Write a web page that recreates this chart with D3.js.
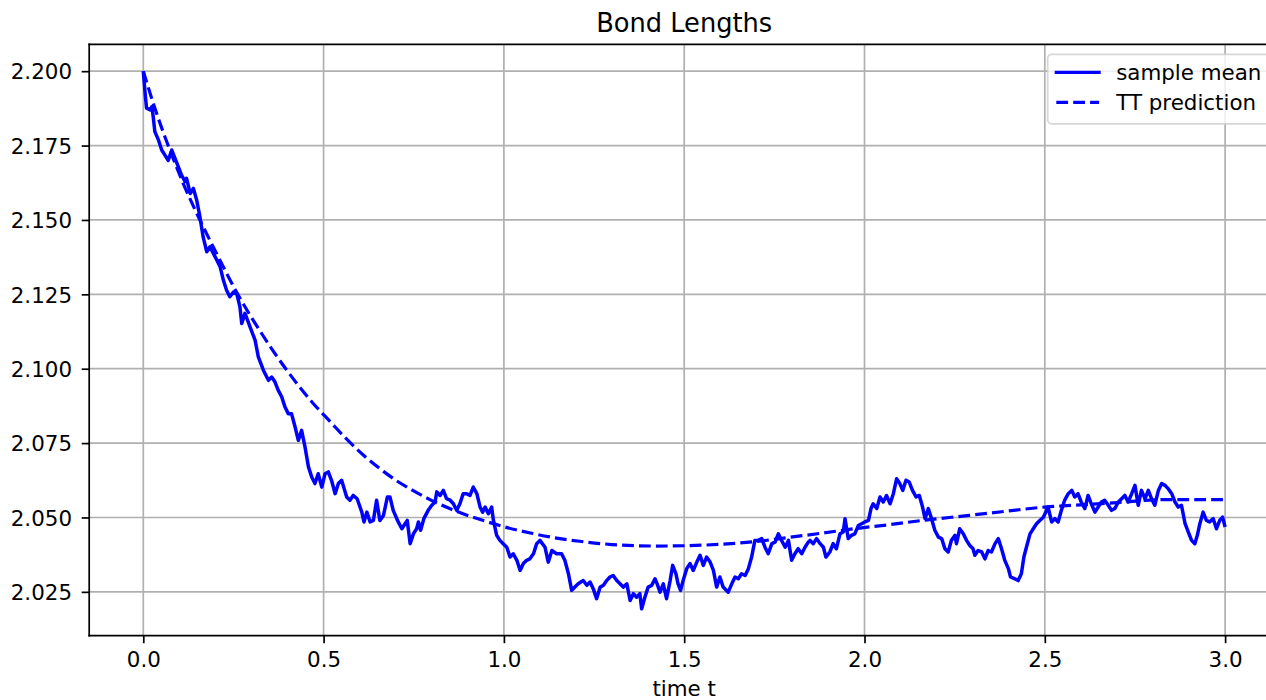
<!DOCTYPE html>
<html>
<head>
<meta charset="utf-8">
<script src="https://cdn.jsdelivr.net/npm/d3@7"></script>
<style>
  body { margin: 0; background: #fff; }
  svg { display: block; }
  text { font-family: "DejaVu Sans", sans-serif; fill: #000; }
</style>
</head>
<body>
<svg id="chart" width="1266" height="700"></svg>
<script>
// Simulated mean bond length over time
const sampleTime = [
  0, 0.005, 0.009, 0.019, 0.024, 0.028, 0.032, 0.042, 0.051, 0.060, 0.069, 0.079, 0.088, 0.097, 0.106, 0.116, 0.120, 0.130, 0.139, 0.148,
  0.157, 0.166, 0.176, 0.185, 0.194, 0.204, 0.213, 0.222, 0.231, 0.240, 0.250, 0.259, 0.268, 0.273, 0.282, 0.296, 0.310, 0.319, 0.333, 0.347,
  0.356, 0.365, 0.374, 0.384, 0.393, 0.402, 0.411, 0.421, 0.430, 0.439, 0.448, 0.458, 0.467, 0.476, 0.485, 0.495, 0.504, 0.513, 0.522, 0.532,
  0.541, 0.550, 0.564, 0.573, 0.582, 0.593, 0.606, 0.612, 0.620, 0.629, 0.638, 0.647, 0.656, 0.666, 0.677, 0.684, 0.693, 0.707, 0.717, 0.726,
  0.732, 0.740, 0.749, 0.758, 0.763, 0.769, 0.778, 0.790, 0.800, 0.809, 0.814, 0.823, 0.832, 0.841, 0.851, 0.860, 0.869, 0.878, 0.887, 0.897,
  0.906, 0.915, 0.925, 0.934, 0.941, 0.948, 0.957, 0.966, 0.971, 0.980, 0.989, 0.998, 1.008, 1.017, 1.026, 1.036, 1.045, 1.054, 1.063, 1.072,
  1.082, 1.091, 1.100, 1.114, 1.123, 1.133, 1.146, 1.160, 1.169, 1.179, 1.188, 1.197, 1.206, 1.220, 1.230, 1.239, 1.248, 1.257, 1.267, 1.276,
  1.285, 1.294, 1.303, 1.313, 1.322, 1.331, 1.341, 1.350, 1.359, 1.368, 1.377, 1.382, 1.391, 1.400, 1.410, 1.419, 1.425, 1.433, 1.442, 1.451,
  1.461, 1.468, 1.477, 1.483, 1.490, 1.497, 1.507, 1.516, 1.525, 1.535, 1.544, 1.553, 1.562, 1.572, 1.581, 1.590, 1.599, 1.608, 1.622, 1.632,
  1.641, 1.650, 1.659, 1.669, 1.678, 1.687, 1.696, 1.705, 1.715, 1.724, 1.733, 1.743, 1.752, 1.761, 1.770, 1.780, 1.789, 1.798, 1.807, 1.816,
  1.826, 1.835, 1.844, 1.849, 1.858, 1.867, 1.877, 1.886, 1.893, 1.904, 1.913, 1.922, 1.932, 1.941, 1.946, 1.955, 1.964, 1.973, 1.983, 1.992,
  2.001, 2.011, 2.018, 2.024, 2.034, 2.043, 2.052, 2.061, 2.071, 2.080, 2.089, 2.098, 2.106, 2.115, 2.124, 2.133, 2.143, 2.152, 2.161, 2.168,
  2.177, 2.186, 2.195, 2.205, 2.214, 2.223, 2.232, 2.241, 2.251, 2.255, 2.264, 2.274, 2.283, 2.292, 2.301, 2.306, 2.315, 2.325, 2.334, 2.343,
  2.352, 2.362, 2.371, 2.380, 2.389, 2.399, 2.405, 2.417, 2.426, 2.435, 2.442, 2.449, 2.459, 2.468, 2.477, 2.486, 2.496, 2.505, 2.509, 2.519,
  2.528, 2.537, 2.546, 2.555, 2.565, 2.575, 2.583, 2.592, 2.601, 2.611, 2.620, 2.629, 2.639, 2.648, 2.657, 2.666, 2.676, 2.685, 2.694, 2.704,
  2.713, 2.722, 2.731, 2.741, 2.750, 2.759, 2.768, 2.778, 2.787, 2.796, 2.805, 2.815, 2.824, 2.833, 2.842, 2.852, 2.861, 2.870, 2.879, 2.889,
  2.898, 2.907, 2.916, 2.923, 2.930, 2.939, 2.948, 2.957, 2.967, 2.976, 2.985, 2.993, 3.000
];
const sampleMean = [
  2.2000, 2.1926, 2.1876, 2.1870, 2.1881, 2.1842, 2.1797, 2.1769, 2.1735, 2.1718, 2.1700, 2.1735, 2.1707, 2.1679, 2.1651, 2.1629, 2.1640, 2.1589, 2.1606, 2.1567,
  2.1511, 2.1443, 2.1393, 2.1410, 2.1388, 2.1365, 2.1343, 2.1298, 2.1264, 2.1242, 2.1258, 2.1253, 2.1208, 2.1152, 2.1186, 2.1141, 2.1096, 2.1040, 2.0995, 2.0961,
  2.0972, 2.0956, 2.0928, 2.0905, 2.0871, 2.0849, 2.0849, 2.0804, 2.0759, 2.0793, 2.0740, 2.0670, 2.0636, 2.0614, 2.0647, 2.0602, 2.0647, 2.0653, 2.0625, 2.0580,
  2.0614, 2.0625, 2.0569, 2.0558, 2.0574, 2.0563, 2.0518, 2.0485, 2.0518, 2.0485, 2.0490, 2.0558, 2.0490, 2.0507, 2.0569, 2.0569, 2.0524, 2.0485, 2.0462, 2.0479,
  2.0490, 2.0412, 2.0445, 2.0462, 2.0485, 2.0457, 2.0496, 2.0524, 2.0541, 2.0552, 2.0586, 2.0574, 2.0591, 2.0563, 2.0558, 2.0546, 2.0524, 2.0546, 2.0580, 2.0580,
  2.0574, 2.0602, 2.0580, 2.0535, 2.0518, 2.0535, 2.0513, 2.0535, 2.0490, 2.0440, 2.0423, 2.0412, 2.0400, 2.0367, 2.0378, 2.0356, 2.0322, 2.0345, 2.0356, 2.0361,
  2.0378, 2.0412, 2.0423, 2.0400, 2.0350, 2.0389, 2.0378, 2.0378, 2.0356, 2.0311, 2.0255, 2.0266, 2.0277, 2.0288, 2.0272, 2.0283, 2.0260, 2.0227, 2.0266, 2.0272,
  2.0288, 2.0300, 2.0305, 2.0288, 2.0277, 2.0266, 2.0277, 2.0221, 2.0244, 2.0232, 2.0244, 2.0193, 2.0232, 2.0266, 2.0272, 2.0294, 2.0277, 2.0249, 2.0277, 2.0227,
  2.0288, 2.0339, 2.0311, 2.0277, 2.0255, 2.0288, 2.0328, 2.0345, 2.0322, 2.0350, 2.0373, 2.0339, 2.0367, 2.0350, 2.0322, 2.0266, 2.0300, 2.0266, 2.0249, 2.0277,
  2.0300, 2.0294, 2.0311, 2.0305, 2.0328, 2.0367, 2.0423, 2.0423, 2.0429, 2.0400, 2.0378, 2.0412, 2.0417, 2.0445, 2.0423, 2.0400, 2.0423, 2.0356, 2.0378, 2.0395,
  2.0378, 2.0400, 2.0417, 2.0423, 2.0412, 2.0429, 2.0412, 2.0400, 2.0367, 2.0384, 2.0412, 2.0395, 2.0445, 2.0451, 2.0496, 2.0429, 2.0440, 2.0445, 2.0473, 2.0479,
  2.0485, 2.0490, 2.0530, 2.0546, 2.0530, 2.0569, 2.0552, 2.0574, 2.0546, 2.0580, 2.0630, 2.0614, 2.0591, 2.0625, 2.0619, 2.0591, 2.0569, 2.0574, 2.0535, 2.0496,
  2.0530, 2.0496, 2.0457, 2.0434, 2.0429, 2.0395, 2.0384, 2.0423, 2.0440, 2.0412, 2.0462, 2.0445, 2.0423, 2.0406, 2.0395, 2.0373, 2.0389, 2.0384, 2.0361, 2.0389,
  2.0384, 2.0412, 2.0429, 2.0395, 2.0356, 2.0328, 2.0300, 2.0294, 2.0288, 2.0311, 2.0367, 2.0400, 2.0445, 2.0462, 2.0479, 2.0490, 2.0501, 2.0524, 2.0535, 2.0485,
  2.0496, 2.0485, 2.0524, 2.0558, 2.0580, 2.0591, 2.0569, 2.0580, 2.0552, 2.0530, 2.0574, 2.0546, 2.0518, 2.0535, 2.0552, 2.0558, 2.0541, 2.0524, 2.0530, 2.0552,
  2.0563, 2.0574, 2.0552, 2.0580, 2.0608, 2.0541, 2.0591, 2.0563, 2.0591, 2.0563, 2.0541, 2.0591, 2.0614, 2.0608, 2.0597, 2.0580, 2.0552, 2.0535, 2.0541, 2.0479,
  2.0451, 2.0423, 2.0412, 2.0440, 2.0479, 2.0518, 2.0490, 2.0485, 2.0496, 2.0462, 2.0490, 2.0501, 2.0468
];

// Tensor-train prediction of the mean bond length
const ttTime = [
  0, 0.035, 0.069, 0.11, 0.157, 0.2, 0.262, 0.33, 0.395, 0.47, 0.52, 0.56, 0.61, 0.666, 0.703, 0.74, 0.795, 0.87, 0.95, 1.0,
  1.08, 1.16, 1.21, 1.3, 1.42, 1.5, 1.6, 1.68, 1.79, 1.88, 1.97, 2.07, 2.16, 2.29, 2.4, 2.5, 2.58, 2.7, 2.83, 2.9, 3.0
];
const ttPrediction = [
  2.2000, 2.1865, 2.1750, 2.1625, 2.1500, 2.1395, 2.1250, 2.1115, 2.1000, 2.0885, 2.0820, 2.0768, 2.0710, 2.0655, 2.0623, 2.0596, 2.0560, 2.0520, 2.0487, 2.0469,
  2.0446, 2.0428, 2.0420, 2.0409, 2.0404, 2.0405, 2.0410, 2.0417, 2.0433, 2.0447, 2.0462, 2.0476, 2.0490, 2.0507, 2.0522, 2.0535, 2.0541, 2.0550, 2.0560, 2.0560, 2.0560
];

const xTicks = [0, 0.5, 1.0, 1.5, 2.0, 2.5, 3.0];
const yTicks = [2.025, 2.050, 2.075, 2.100, 2.125, 2.150, 2.175, 2.200];
const seriesLabels = ["sample mean", "TT prediction"];
const chartTitle = "Bond Lengths";
const xAxisLabel = "time t";

// ---- layout ----
const plot = { left: 89.2, top: 44.3, right: 1279.2, bottom: 635.7 };
const FONT = 21.4;
const TITLE_FONT = 25.7;
const LINE_W = 3.2;
const THIN = 1.7;
const TICK = 7.5;
const DASH = "11.8,5.1";
const BLUE = "#0000ff";

const svg = d3.select("#chart");

// 5% margins around the data, like the default autoscaling
const tExt = d3.extent(sampleTime.concat(ttTime));
const vExt = d3.extent(sampleMean.concat(ttPrediction));
const tPad = (tExt[1] - tExt[0]) * 0.05;
const vPad = (vExt[1] - vExt[0]) * 0.05;

const x = d3.scaleLinear().domain([tExt[0] - tPad, tExt[1] + tPad]).range([plot.left, plot.right]);
const y = d3.scaleLinear().domain([vExt[0] - vPad, vExt[1] + vPad]).range([plot.bottom, plot.top]);

svg.append("defs").append("clipPath").attr("id", "plot-clip")
  .append("rect")
  .attr("x", plot.left).attr("y", plot.top)
  .attr("width", plot.right - plot.left).attr("height", plot.bottom - plot.top);

// grid
const grid = svg.append("g").attr("stroke", "#b0b0b0").attr("stroke-width", THIN);
grid.selectAll("line.gx").data(xTicks).join("line")
  .attr("x1", d => x(d)).attr("x2", d => x(d))
  .attr("y1", plot.top).attr("y2", plot.bottom);
grid.selectAll("line.gy").data(yTicks).join("line")
  .attr("x1", plot.left).attr("x2", plot.right)
  .attr("y1", d => y(d)).attr("y2", d => y(d));

// series
const sampleData = sampleTime.map((t, i) => [t, sampleMean[i]]);
const ttData = ttTime.map((t, i) => [t, ttPrediction[i]]);
const line = d3.line().x(d => x(d[0])).y(d => y(d[1]));

const lines = svg.append("g").attr("clip-path", "url(#plot-clip)");
lines.append("path").datum(sampleData)
  .attr("d", line)
  .attr("fill", "none").attr("stroke", BLUE).attr("stroke-width", LINE_W + 0.3)
  .attr("stroke-linejoin", "round");
lines.append("path").datum(ttData)
  .attr("d", line.curve(d3.curveMonotoneX))
  .attr("fill", "none").attr("stroke", BLUE).attr("stroke-width", LINE_W)
  .attr("stroke-dasharray", DASH);

// axes
const xAxis = d3.axisBottom(x).tickValues(xTicks).tickFormat(d3.format(".1f"))
  .tickSize(TICK).tickSizeOuter(0).tickPadding(8.6);
const yAxis = d3.axisLeft(y).tickValues(yTicks).tickFormat(d3.format(".3f"))
  .tickSize(TICK).tickSizeOuter(0).tickPadding(9.7);

const gx = svg.append("g").attr("transform", `translate(0,${plot.bottom})`).call(xAxis);
const gy = svg.append("g").attr("transform", `translate(${plot.left},0)`).call(yAxis);
[gx, gy].forEach(g => {
  g.select(".domain").remove();
  g.selectAll(".tick line").attr("stroke", "#000").attr("stroke-width", THIN);
  g.selectAll(".tick text").attr("font-size", FONT).attr("font-family", "DejaVu Sans").attr("fill", "#000");
});
gy.selectAll(".tick text").attr("dy", "0.36em");

// spines
const spines = svg.append("g").attr("stroke", "#000").attr("stroke-width", THIN).attr("stroke-linecap", "square");
spines.append("line").attr("x1", plot.left).attr("x2", plot.left).attr("y1", plot.top).attr("y2", plot.bottom);
spines.append("line").attr("x1", plot.left).attr("x2", plot.right).attr("y1", plot.bottom).attr("y2", plot.bottom);
spines.append("line").attr("x1", plot.left).attr("x2", plot.right).attr("y1", plot.top).attr("y2", plot.top);
spines.append("line").attr("x1", plot.right).attr("x2", plot.right).attr("y1", plot.top).attr("y2", plot.bottom);

// title and axis label
svg.append("text")
  .attr("x", (plot.left + plot.right) / 2).attr("y", 31.5)
  .attr("text-anchor", "middle").attr("font-size", TITLE_FONT)
  .text(chartTitle);
svg.append("text")
  .attr("x", (plot.left + plot.right) / 2).attr("y", 695.5)
  .attr("text-anchor", "middle").attr("font-size", FONT)
  .text(xAxisLabel);

// legend
const legend = svg.append("g");
const lgX = 1047.7, lgY = 54.3, lgW = 221, lgH = 69.5;
legend.append("rect")
  .attr("x", lgX).attr("y", lgY).attr("width", lgW).attr("height", lgH)
  .attr("rx", 4).attr("ry", 4)
  .attr("fill", "#fff").attr("fill-opacity", 0.8)
  .attr("stroke", "#cccccc").attr("stroke-opacity", 0.8).attr("stroke-width", THIN);
const rows = legend.selectAll("g.row").data(seriesLabels).join("g")
  .attr("transform", (d, i) => `translate(0,${72.3 + i * 30})`);
rows.append("line")
  .attr("x1", 1056.3).attr("x2", 1099.1).attr("y1", 0).attr("y2", 0)
  .attr("stroke", BLUE).attr("stroke-width", LINE_W)
  .attr("stroke-linecap", (d, i) => i === 0 ? "square" : "butt")
  .attr("stroke-dasharray", (d, i) => i === 0 ? null : DASH);
rows.append("text")
  .attr("x", 1116.2).attr("y", 0).attr("dy", "0.36em")
  .attr("font-size", FONT)
  .text(d => d);
</script>
</body>
</html>
